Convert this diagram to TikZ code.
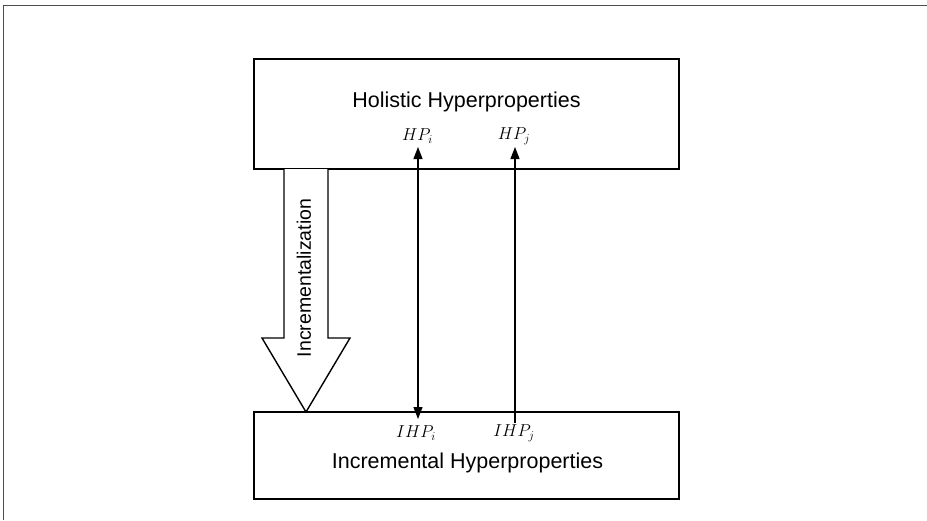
\documentclass[tikz,border=0pt]{standalone}
\usepackage{fontspec}
\setmainfont{Liberation Sans}
\usetikzlibrary{arrows.meta}
\begin{document}
\begin{tikzpicture}[x=1pt,y=-1pt,
  layerbox/.style={draw=black,line width=1.5pt,fill=white,inner sep=0pt},
  tipshape/.style={Triangle[length=12pt,width=9pt]},
  link/.style={line width=1.3pt,-{Triangle[length=12pt,width=9pt]}},
  mlabel/.style={inner sep=0pt,font=\fontsize{18}{20}\selectfont},
  bigarrow/.style={draw=black,line width=1.4pt,fill=white,line join=miter}]
  \useasboundingbox (0,0) rectangle (927,520);
  % frame along the top and left edges
  \draw[line width=1.8pt,color=black!70] (927,5.5) -- (3.5,5.5) -- (3.5,520);
  % the two layers
  \node[layerbox,minimum width=425pt,minimum height=110pt] (holistic) at (466.5,114) {};
  \node[layerbox,minimum width=425pt,minimum height=87pt] (incremental) at (466.5,455.5) {};
  \node[inner sep=0pt,font=\fontsize{21.5}{24}\selectfont] (holtxt) at (466.5,102) {Holistic Hyperproperties};
  \node[inner sep=0pt,font=\fontsize{21.5}{24}\selectfont] (inctxt) at (467.5,463) {Incremental Hyperproperties};
  % incrementalization arrow
  \coordinate (shaftL) at (284,169);
  \coordinate (shaftR) at (328,169);
  \coordinate (tip) at (306,412);
  \draw[bigarrow] (shaftL) -- (284,338) -- (262,338) -- (tip) -- (350,338) -- (328,338) -- (shaftR);
  \node[inner sep=0pt,rotate=90,font=\fontsize{19.5}{22}\selectfont] (inclabel) at (304,278) {Incrementalization};
  % property labels
  \node[mlabel] (hpi) at (417.5,136) {$HP_i$};
  \node[mlabel] (hpj) at (514,136) {$HP_j$};
  \node[mlabel,font=\fontsize{17}{19}\selectfont] (ihpi) at (416,433) {$IHP_i$};
  \node[mlabel,font=\fontsize{17}{19}\selectfont] (ihpj) at (514,433) {$IHP_j$};
  % correspondences
  \coordinate (itop) at (418,147);
  \coordinate (ibot) at (418,419);
  \coordinate (jtop) at (515,147);
  \coordinate (jbot) at (515,423);
  \draw[line width=1.3pt,{Triangle[length=12pt,width=9pt]}-{Triangle[length=12pt,width=9pt]}] (ibot) -- (itop);
  \draw[link] (jbot) -- (jtop);
\end{tikzpicture}
\end{document}
